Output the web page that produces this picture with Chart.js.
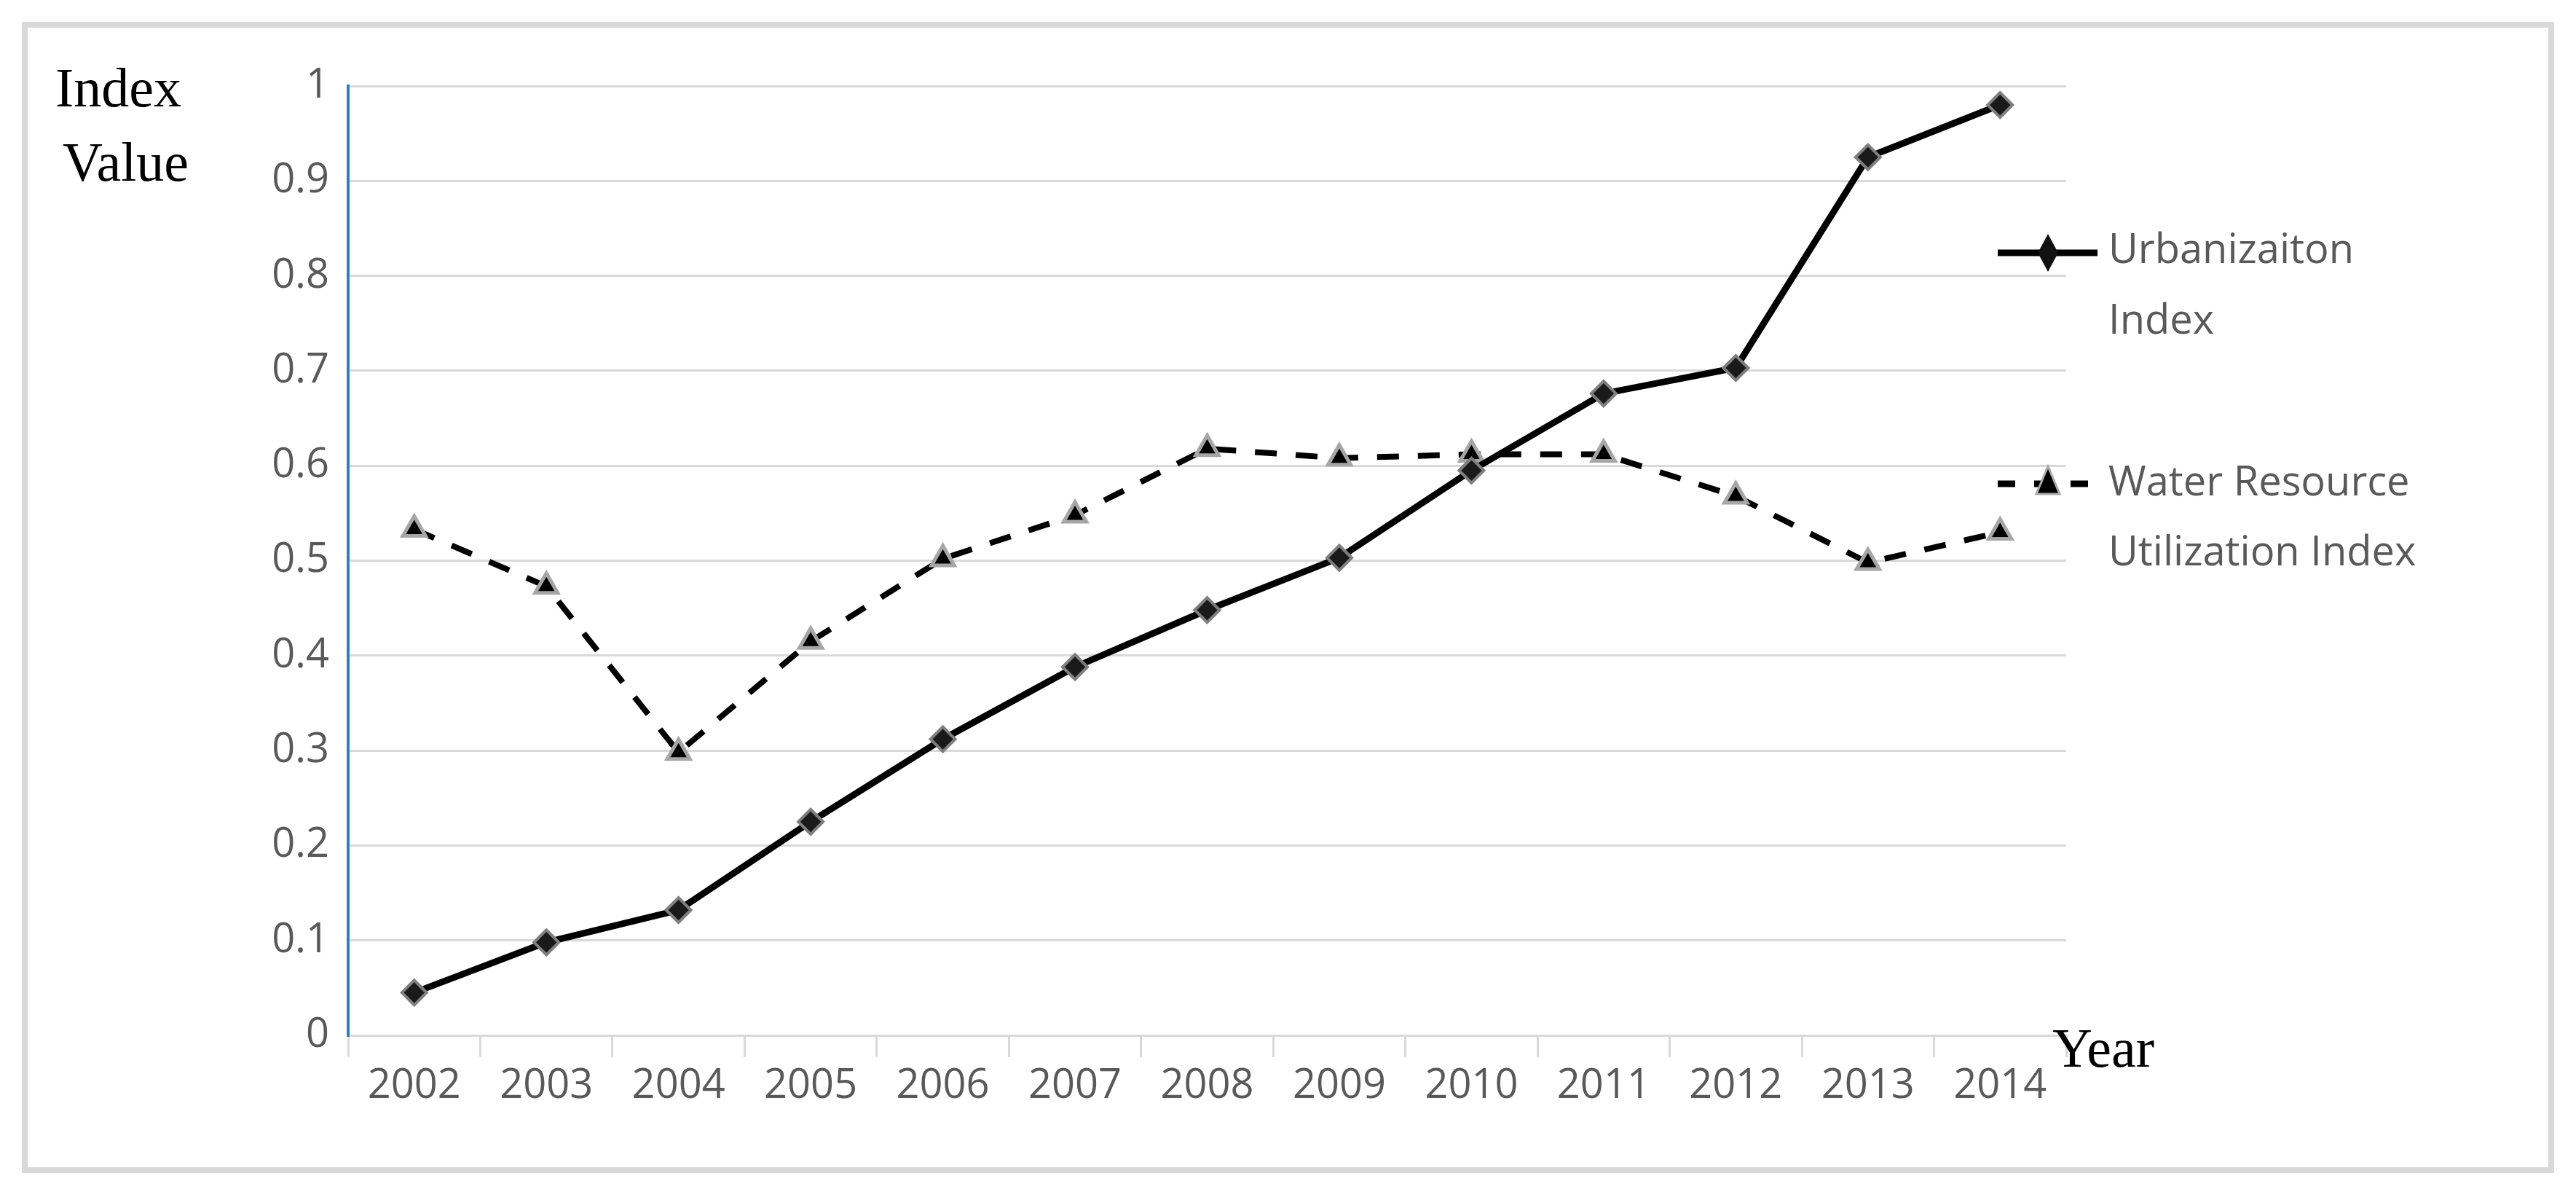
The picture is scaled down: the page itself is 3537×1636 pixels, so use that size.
<!DOCTYPE html>
<html>
<head>
<meta charset="utf-8">
<script src="https://cdn.jsdelivr.net/npm/chart.js@4"></script>
<style>
  html, body { margin: 0; padding: 0; background: #fff; }
  #wrap { width: 3537px; height: 1636px; }
</style>
</head>
<body>
<div id="wrap"><canvas id="c" width="3537" height="1636"></canvas></div>
<script>
// data
const years = ['2002','2003','2004','2005','2006','2007','2008','2009','2010','2011','2012','2013','2014'];
const urbanIndex = [0.045, 0.098, 0.132, 0.225, 0.312, 0.388, 0.448, 0.503, 0.595, 0.676, 0.703, 0.925, 0.98];
const waterIndex = [0.533, 0.473, 0.298, 0.415, 0.502, 0.548, 0.618, 0.608, 0.612, 0.612, 0.568, 0.498, 0.530];
const yTicks = [0, 0.1, 0.2, 0.3, 0.4, 0.5, 0.6, 0.7, 0.8, 0.9, 1];

const tickFont = { family: 'Open Sans', size: 56 };
const serif = '76px "Liberation Serif"';

// frame, axis titles and the two-line legend
const decor = {
  id: 'decor',
  afterDraw(chart) {
    const ctx = chart.ctx;
    ctx.save();
    ctx.strokeStyle = '#d9d9d9';
    ctx.lineWidth = 8;
    ctx.strokeRect(34, 34, 3469, 1572);

    ctx.fillStyle = '#000';
    ctx.font = serif;
    ctx.textBaseline = 'middle';
    ctx.fillText('Index', 76, 126);
    ctx.fillText('Value', 86, 228);
    ctx.fillText('Year', 2818, 1444);

    // legend
    ctx.font = '56px "Open Sans"';
    ctx.fillStyle = '#595959';
    ctx.fillText('Urbanizaiton', 2895, 345);
    ctx.fillText('Index', 2895, 442);
    ctx.fillText('Water Resource', 2895, 664);
    ctx.fillText('Utilization Index', 2895, 760);

    ctx.strokeStyle = '#000';
    ctx.lineWidth = 9;
    ctx.beginPath(); ctx.moveTo(2743, 347); ctx.lineTo(2880, 347); ctx.stroke();
    ctx.fillStyle = '#111';
    ctx.beginPath();
    ctx.moveTo(2812, 321); ctx.lineTo(2826, 347); ctx.lineTo(2812, 373); ctx.lineTo(2798, 347);
    ctx.closePath(); ctx.fill();

    ctx.setLineDash([24, 26]);
    ctx.beginPath(); ctx.moveTo(2743, 664); ctx.lineTo(2880, 664); ctx.stroke();
    ctx.setLineDash([]);
    ctx.fillStyle = '#000';
    ctx.strokeStyle = '#aaa';
    ctx.lineWidth = 3;
    ctx.beginPath();
    ctx.moveTo(2812, 640); ctx.lineTo(2828, 678); ctx.lineTo(2796, 678);
    ctx.closePath(); ctx.fill(); ctx.stroke();
    ctx.restore();
  }
};

new Chart(document.getElementById('c'), {
  type: 'line',
  data: {
    labels: years,
    datasets: [
      {
        label: 'Urbanizaiton Index',
        data: urbanIndex,
        borderColor: '#000',
        borderWidth: 9,
        pointStyle: 'rectRot',
        pointRadius: 17,
        pointBackgroundColor: '#1a1a1a',
        pointBorderColor: '#7f7f7f',
        pointBorderWidth: 4,
        tension: 0
      },
      {
        label: 'Water Resource Utilization Index',
        data: waterIndex,
        borderColor: '#000',
        borderWidth: 8,
        borderDash: [30, 26],
        pointStyle: 'triangle',
        pointRadius: 18,
        pointBackgroundColor: '#000',
        pointBorderColor: '#a6a6a6',
        pointBorderWidth: 5,
        tension: 0
      }
    ]
  },
  options: {
    responsive: false,
    animation: false,
    layout: { padding: { top: 118, right: 700, left: 0, bottom: 0 } },
    plugins: { legend: { display: false }, tooltip: { enabled: false } },
    scales: {
      x: {
        offset: true,
        grid: { display: true, drawOnChartArea: false, offset: true, color: '#d9d9d9', lineWidth: 3, tickLength: 30 },
        border: { color: '#d9d9d9', width: 3 },
        ticks: { color: '#595959', font: tickFont, padding: 6, maxRotation: 0 },
        afterFit(scale) { scale.height = 215; }
      },
      y: {
        min: 0, max: 1,
        afterBuildTicks(scale) { scale.ticks = yTicks.map(v => ({ value: v })); },
        grid: { color: '#d9d9d9', lineWidth: 3, tickLength: 0 },
        border: { color: '#2e7fc2', width: 4 },
        ticks: { color: '#595959', font: tickFont, padding: 26, callback: v => String(v) },
        afterFit(scale) { scale.width = 478; }
      }
    }
  },
  plugins: [decor]
});
</script>
</body>
</html>
